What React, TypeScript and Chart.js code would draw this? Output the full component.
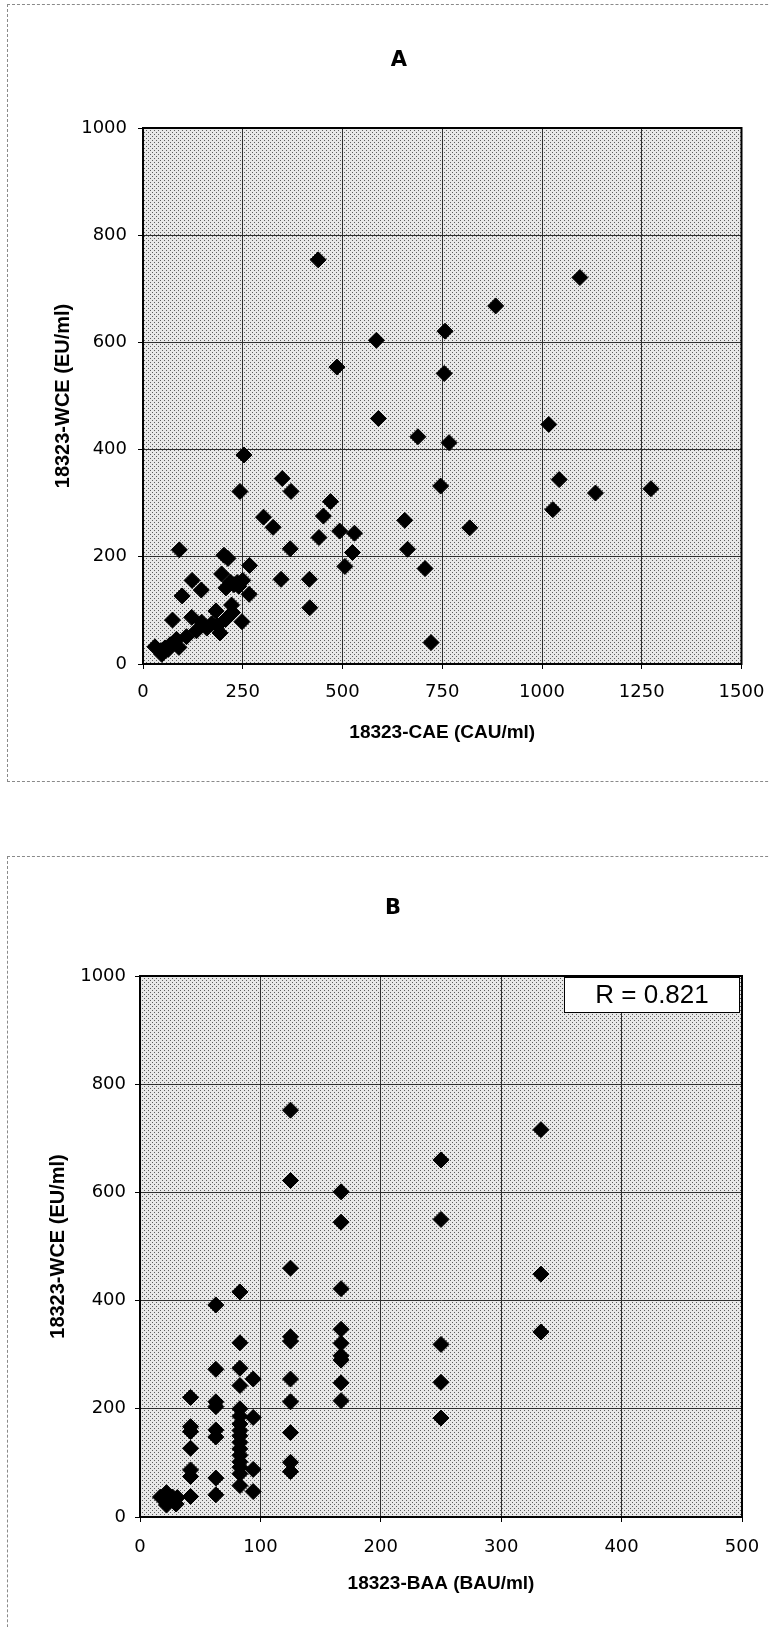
import React, { useEffect, useRef } from 'react';
import { Chart, registerables } from 'chart.js';

Chart.register(...registerables);

// ---- Panel A: 18323-CAE (CAU/ml) vs 18323-WCE (EU/ml)
const caeA = [439, 1095, 884, 757, 585, 486, 755, 590, 1017, 689, 767, 253, 349, 1043, 746, 1273, 243, 371, 1134, 470,
  1027, 302, 452, 326, 819, 656, 493, 530, 441, 369, 663, 91, 525, 203, 213, 506, 267, 707, 197, 346,
  417, 123, 250, 219, 236, 208, 146, 98, 266, 418, 222, 183, 224, 248, 722, 122, 74, 147, 172, 193,
  160, 134, 109, 84, 30, 47, 63, 90, 68, 207, 187, 45, 55, 240, 228];
const wceA = [754, 721, 668, 621, 604, 554, 542, 458, 447, 424, 413, 390, 346, 344, 332, 327, 322, 322, 319, 303,
  288, 274, 276, 255, 254, 268, 248, 244, 236, 215, 214, 213, 208, 203, 197, 182, 184, 178, 168, 158,
  158, 156, 156, 153, 152, 142, 138, 127, 130, 105, 110, 99, 96, 79, 40, 87, 82, 78, 75, 58,
  67, 62, 51, 46, 32, 18, 27, 31, 36, 83, 72, 25, 30, 145, 148];

// ---- Panel B: 18323-BAA (BAU/ml) vs 18323-WCE (EU/ml)
const baaB = [17, 22, 27, 22, 31, 30, 22,
  42, 42, 42, 42, 42, 42, 42,
  63, 63, 63, 63, 63, 63, 63, 63,
  83, 83, 83, 83, 83, 83, 83, 83, 83, 83, 83, 83, 83, 83, 83, 83,
  94, 94, 94, 94,
  125, 125, 125, 125, 125, 125, 125, 125, 125, 125,
  167, 167, 167, 167, 167, 167, 167, 167, 167,
  250, 250, 250, 250, 250,
  333, 333, 333];
const wceB = [37, 45, 37, 28, 36, 24, 22,
  221, 167, 158, 127, 87, 75, 38,
  392, 273, 213, 204, 161, 148, 72, 41,
  416, 322, 275, 243, 200, 186, 172, 160, 150, 138, 126, 114, 102, 92, 80, 58,
  255, 184, 88, 47,
  752, 622, 460, 333, 325, 255, 213, 156, 101, 84,
  601, 545, 422, 347, 321, 298, 290, 248, 215,
  660, 550, 319, 249, 183,
  716, 449, 342];

const titleA = 'A';
const titleB = 'B';
const xLabelA = '18323-CAE (CAU/ml)';
const xLabelB = '18323-BAA (BAU/ml)';
const yLabel = '18323-WCE (EU/ml)';
const rText = 'R = 0.821';
const xRangeA = [0, 1500, 250];
const xRangeB = [0, 500, 100];
const yRange = [0, 1000, 200];

const ARIAL = "'Liberation Sans', Arial, sans-serif";
const WIDE = "'DejaVu Sans', sans-serif";
const CANVAS_W = 830;

function makePattern(ctx: CanvasRenderingContext2D) {
  const c = document.createElement('canvas');
  c.width = 4;
  c.height = 4;
  const g = c.getContext('2d')!;
  g.fillStyle = '#e8e8e8';
  g.fillRect(0, 0, 4, 4);
  g.fillStyle = '#5e5e5e';
  g.fillRect(0, 0, 1, 1);
  g.fillRect(2, 2, 1, 1);
  return ctx.createPattern(c, 'repeat');
}

const plotFrame = {
  id: 'plotFrame',
  beforeDraw(chart: any) {
    const { ctx, chartArea } = chart;
    const { left, top, width, height } = chartArea;
    ctx.save();
    ctx.fillStyle = makePattern(ctx) || '#d8d8d8';
    ctx.fillRect(left, top, width, height);
    ctx.restore();
  },
  beforeDatasetsDraw(chart: any) {
    const { ctx, chartArea } = chart;
    const { left, top, width, height } = chartArea;
    ctx.save();
    ctx.strokeStyle = '#000';
    ctx.lineWidth = 2;
    ctx.strokeRect(left, top, width, height);
    ctx.restore();
  },
};

const rBox = {
  id: 'rBox',
  afterDatasetsDraw(chart: any, _args: any, opts: any) {
    if (!opts || !opts.text) return;
    const { ctx, chartArea } = chart;
    const w = 176;
    const h = 36;
    const x = chartArea.right - 2 - w;
    const y = chartArea.top + 1;
    ctx.save();
    ctx.fillStyle = '#fff';
    ctx.fillRect(x, y, w, h);
    ctx.strokeStyle = '#000';
    ctx.lineWidth = 1;
    ctx.strokeRect(x + 0.5, y + 0.5, w - 1, h - 1);
    ctx.fillStyle = '#000';
    ctx.font = `26px ${ARIAL}`;
    ctx.textAlign = 'center';
    ctx.textBaseline = 'middle';
    ctx.fillText(opts.text, x + w / 2, y + h / 2 + 1);
    ctx.restore();
  },
};

type Cfg = {
  xs: number[];
  ys: number[];
  title: string;
  xLabel: string;
  xRange: number[];
  padLeft: number;
  padRight: number;
  padBottom: number;
  yWidth: number;
  titleTop: number;
  titleBottom: number;
  xTickPad: number;
  xTitleBottom: number;
  yTickPad: number;
  yTitleTop: number;
  r?: string;
};

const plain = (v: any) => String(v);

function buildConfig(c: Cfg): any {
  return {
    type: 'scatter',
    data: {
      datasets: [
        {
          data: c.xs.map((x, i) => ({ x, y: c.ys[i] })),
          pointStyle: 'rectRot',
          pointRadius: 8,
          backgroundColor: '#000',
          borderColor: '#000',
          borderWidth: 1,
        },
      ],
    },
    options: {
      animation: false,
      responsive: false,
      maintainAspectRatio: false,
      devicePixelRatio: 1,
      events: [],
      layout: { padding: { left: c.padLeft, right: c.padRight, top: 0, bottom: c.padBottom } },
      plugins: {
        legend: { display: false },
        tooltip: { enabled: false },
        title: {
          display: true,
          text: c.title,
          color: '#000',
          font: { family: WIDE, size: 21, weight: 'bold', lineHeight: 1.2 },
          padding: { top: c.titleTop, bottom: c.titleBottom },
        },
        rBox: { text: c.r || '' },
      },
      scales: {
        x: {
          type: 'linear',
          min: c.xRange[0],
          max: c.xRange[1],
          ticks: {
            stepSize: c.xRange[2],
            color: '#000',
            font: { family: WIDE, size: 18 },
            padding: c.xTickPad,
            maxRotation: 0,
            autoSkip: false,
            callback: plain,
          },
          grid: { color: '#2e2e2e', lineWidth: 1, tickLength: 5, tickColor: '#000' },
          border: { display: true, color: '#000', width: 2 },
          title: {
            display: true,
            text: c.xLabel,
            color: '#000',
            font: { family: ARIAL, size: 19, weight: 'bold', lineHeight: 1.2 },
            padding: { top: 0, bottom: c.xTitleBottom },
          },
          afterFit: (s: any) => {
            s.height = 100;
          },
        },
        y: {
          type: 'linear',
          min: yRange[0],
          max: yRange[1],
          ticks: {
            stepSize: yRange[2],
            color: '#000',
            font: { family: WIDE, size: 18 },
            padding: c.yTickPad,
            callback: plain,
          },
          grid: { color: '#2e2e2e', lineWidth: 1, tickLength: 5, tickColor: '#000' },
          border: { display: true, color: '#000', width: 2 },
          title: {
            display: true,
            text: yLabel,
            color: '#000',
            font: { family: ARIAL, size: 20, weight: 'bold', lineHeight: 0.6 },
            padding: { top: c.yTitleTop, bottom: 0 },
          },
          afterFit: (s: any) => {
            s.width = c.yWidth;
          },
        },
      },
    },
    plugins: [plotFrame, rBox],
  };
}

function ScatterPanel({ cfg, top, height }: { cfg: Cfg; top: number; height: number }) {
  const ref = useRef<HTMLCanvasElement | null>(null);
  useEffect(() => {
    if (!ref.current) return;
    const chart = new Chart(ref.current, buildConfig(cfg));
    return () => chart.destroy();
  }, []);
  return (
    <canvas
      ref={ref}
      width={CANVAS_W}
      height={height}
      style={{ position: 'absolute', left: 0, top, width: CANVAS_W, height, display: 'block' }}
    />
  );
}

const cfgA: Cfg = {
  xs: caeA,
  ys: wceA,
  title: titleA,
  xLabel: xLabelA,
  xRange: xRangeA,
  padLeft: 56.5,
  padRight: CANVAS_W - 741.5,
  padBottom: 36,
  yWidth: 86.5,
  titleTop: 48.4,
  titleBottom: 54.4,
  xTickPad: 13,
  xTitleBottom: 19.6,
  yTickPad: 11,
  yTitleTop: 0.5,
};

const cfgB: Cfg = {
  xs: baaB,
  ys: wceB,
  title: titleB,
  xLabel: xLabelB,
  xRange: xRangeB,
  padLeft: 44,
  padRight: CANVAS_W - 742,
  padBottom: 10,
  yWidth: 96,
  titleTop: 66.1,
  titleBottom: 54.7,
  xTickPad: 14.7,
  xTitleBottom: 21.6,
  yTickPad: 9,
  yTitleTop: 8,
  r: rText,
};

export default function App() {
  return (
    <div
      style={{
        position: 'absolute',
        left: 0,
        top: 0,
        width: 770,
        height: 1627,
        overflow: 'hidden',
        background: '#fff',
      }}
    >
      <div
        style={{
          position: 'absolute',
          left: 7,
          top: 4,
          width: 800,
          height: 776,
          borderTop: '1px dashed #8a8a8a',
          borderLeft: '1px dashed #8a8a8a',
          borderBottom: '1px dashed #8a8a8a',
        }}
      />
      <div
        style={{
          position: 'absolute',
          left: 7,
          top: 856,
          width: 800,
          height: 900,
          borderTop: '1px dashed #8a8a8a',
          borderLeft: '1px dashed #8a8a8a',
        }}
      />
      <ScatterPanel cfg={cfgA} top={0} height={800} />
      <ScatterPanel cfg={cfgB} top={830} height={797} />
    </div>
  );
}
